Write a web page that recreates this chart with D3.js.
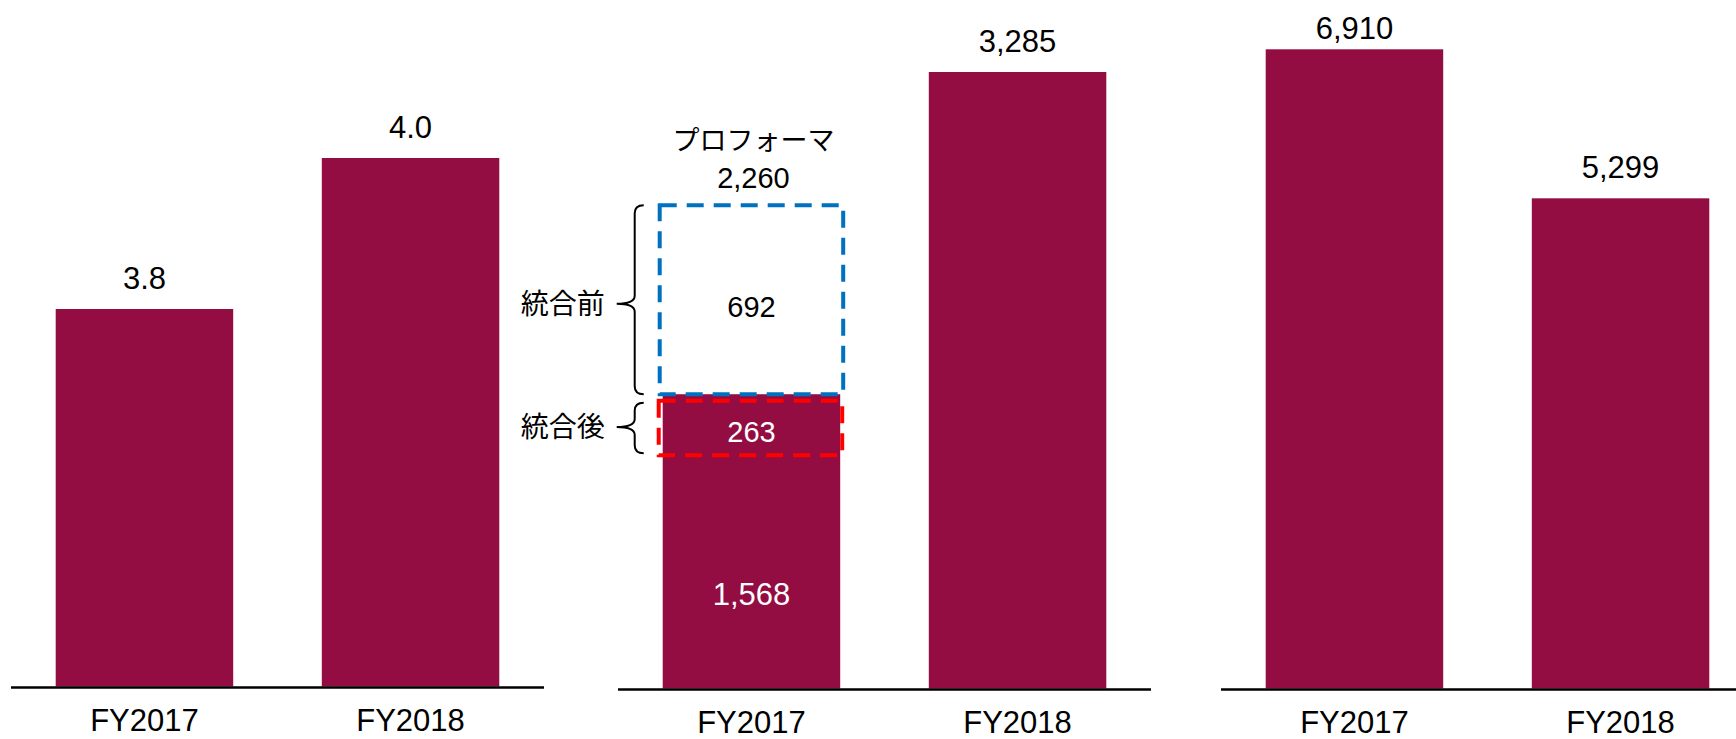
<!DOCTYPE html>
<html>
<head>
<meta charset="utf-8">
<script src="https://cdn.jsdelivr.net/npm/d3@7"></script>
<style>
  body { margin: 0; background: #fff; }
  text { font-family: "Liberation Sans", Arial, sans-serif; }
  .jp { font-family: "Noto Sans CJK JP", sans-serif; }
</style>
</head>
<body>
<div id="chart"></div>
<script>
// data
var years = ["FY2017", "FY2018"];
var panel1Values = [3.8, 4.0];
var panel2Values = [1568, 3285];
var panel3Values = [6910, 5299];
var panel1Labels = ["3.8", "4.0"];
var panel2Labels = ["1,568", "3,285"];
var panel3Labels = ["6,910", "5,299"];
var proforma = { title: "プロフォーマ", total: "2,260", before: "692", after: "263" };
var braceLabels = ["統合前", "統合後"];

var svgWidth = 1736;
var svgHeight = 739;
var barColor = "#930c42";

var svg = d3.select("#chart")
    .append("svg")
    .attr("width", svgWidth)
    .attr("height", svgHeight);

// each panel: left edge of axis, baseline y, y domain, top of the tallest bar
var panels = [
    { x0: 11, base: 686.5, domain: [3.3, 4.0], top: 158, values: panel1Values, labels: panel1Labels },
    { x0: 618, base: 688.5, domain: [0, 3285], top: 72, values: panel2Values, labels: panel2Labels },
    { x0: 1221, base: 688.5, domain: [0, 6910], top: 49.3, values: panel3Values, labels: panel3Labels }
];
var panelWidth = 533;

panels.forEach(function(p, pi) {
    var x = d3.scaleBand()
        .domain(years)
        .range([p.x0, p.x0 + panelWidth])
        .paddingInner(0.333)
        .paddingOuter(0.168);

    var y = d3.scaleLinear()
        .domain(p.domain)
        .range([p.base, p.top]);
    p.x = x;
    p.y = y;

    var g = svg.append("g");

    g.selectAll("rect.bar")
        .data(p.values)
        .enter()
        .append("rect")
        .attr("class", "bar")
        .attr("x", (d, i) => x(years[i]))
        .attr("y", d => y(d))
        .attr("width", x.bandwidth())
        .attr("height", d => p.base - y(d))
        .attr("fill", barColor);

    // value labels above bars (the stacked FY2017 in panel 2 gets its own)
    g.selectAll("text.val")
        .data(p.values)
        .enter()
        .append("text")
        .attr("class", "val")
        .attr("x", (d, i) => x(years[i]) + x.bandwidth() / 2)
        .attr("y", d => Math.max(39, y(d) - 20))
        .attr("text-anchor", "middle")
        .attr("font-size", 31)
        .attr("fill", "#000")
        .style("display", (d, i) => (pi === 1 && i === 0) ? "none" : null)
        .text((d, i) => p.labels[i]);

    // baseline
    g.append("line")
        .attr("x1", p.x0)
        .attr("x2", p.x0 + panelWidth)
        .attr("y1", p.base + 1)
        .attr("y2", p.base + 1)
        .attr("stroke", "#000")
        .attr("stroke-width", 2.5);

    // category labels
    g.selectAll("text.cat")
        .data(years)
        .enter()
        .append("text")
        .attr("class", "cat")
        .attr("x", d => x(d) + x.bandwidth() / 2)
        .attr("y", p.base + 44)
        .attr("text-anchor", "middle")
        .attr("font-size", 31)
        .attr("fill", "#000")
        .text(d => d);
});

// pro forma annotation on panel 2, FY2017
var p2 = panels[1];
var bx = p2.x(years[0]);
var bw = p2.x.bandwidth();
var cx = bx + bw / 2;
var barTop = p2.y(panel2Values[0]);

// label inside the bar
svg.append("text")
    .attr("x", cx)
    .attr("y", p2.base - 84)
    .attr("text-anchor", "middle")
    .attr("font-size", 31)
    .attr("fill", "#fff")
    .text(panel2Labels[0]);

// blue dashed box (before integration)
var blueTop = barTop - 189;
svg.append("rect")
    .attr("x", bx - 3)
    .attr("y", blueTop)
    .attr("width", bw + 6)
    .attr("height", barTop - blueTop)
    .attr("fill", "none")
    .attr("stroke", "#0070c0")
    .attr("stroke-width", 4)
    .attr("stroke-dasharray", "17,10");

svg.append("text")
    .attr("x", cx)
    .attr("y", (blueTop + barTop) / 2 + 17)
    .attr("text-anchor", "middle")
    .attr("font-size", 29)
    .attr("fill", "#000")
    .text(proforma.before);

// red dashed box (after integration)
var redTop = barTop + 6.5;
var redBottom = barTop + 61;
svg.append("rect")
    .attr("x", bx - 4)
    .attr("y", redTop)
    .attr("width", bw + 6)
    .attr("height", redBottom - redTop)
    .attr("fill", "none")
    .attr("stroke", "#ff0000")
    .attr("stroke-width", 4)
    .attr("stroke-dasharray", "17,10");

svg.append("text")
    .attr("x", cx)
    .attr("y", redBottom - 13)
    .attr("text-anchor", "middle")
    .attr("font-size", 29)
    .attr("fill", "#fff")
    .text(proforma.after);

// title and total above
svg.append("text")
    .attr("class", "jp")
    .attr("x", cx + 2)
    .attr("y", blueTop - 55)
    .attr("text-anchor", "middle")
    .attr("font-size", 27)
    .attr("fill", "#000")
    .text(proforma.title);

svg.append("text")
    .attr("x", cx + 2)
    .attr("y", blueTop - 17.5)
    .attr("text-anchor", "middle")
    .attr("font-size", 29)
    .attr("fill", "#000")
    .text(proforma.total);

// braces
function bracePath(ex, vx, tx, y0, y1, ty) {
    var r = 8;
    return "M" + ex + "," + y0 +
        " Q" + vx + "," + y0 + " " + vx + "," + (y0 + r) +
        " L" + vx + "," + (ty - r) +
        " Q" + vx + "," + ty + " " + tx + "," + ty +
        " Q" + vx + "," + ty + " " + vx + "," + (ty + r) +
        " L" + vx + "," + (y1 - r) +
        " Q" + vx + "," + y1 + " " + ex + "," + y1;
}

var braces = [
    { y0: blueTop, y1: barTop, ty: (blueTop + barTop) / 2 + 4, label: braceLabels[0] },
    { y0: redTop + 2, y1: redBottom - 2, ty: (redTop + redBottom) / 2 - 1, label: braceLabels[1] }
];

braces.forEach(function(b) {
    svg.append("path")
        .attr("d", bracePath(bx - 19, bx - 28, bx - 46, b.y0, b.y1, b.ty))
        .attr("fill", "none")
        .attr("stroke", "#000")
        .attr("stroke-width", 2);

    svg.append("text")
        .attr("class", "jp")
        .attr("x", bx - 58)
        .attr("y", b.ty + 10)
        .attr("text-anchor", "end")
        .attr("font-size", 28)
        .attr("fill", "#000")
        .text(b.label);
});
</script>
</body>
</html>
